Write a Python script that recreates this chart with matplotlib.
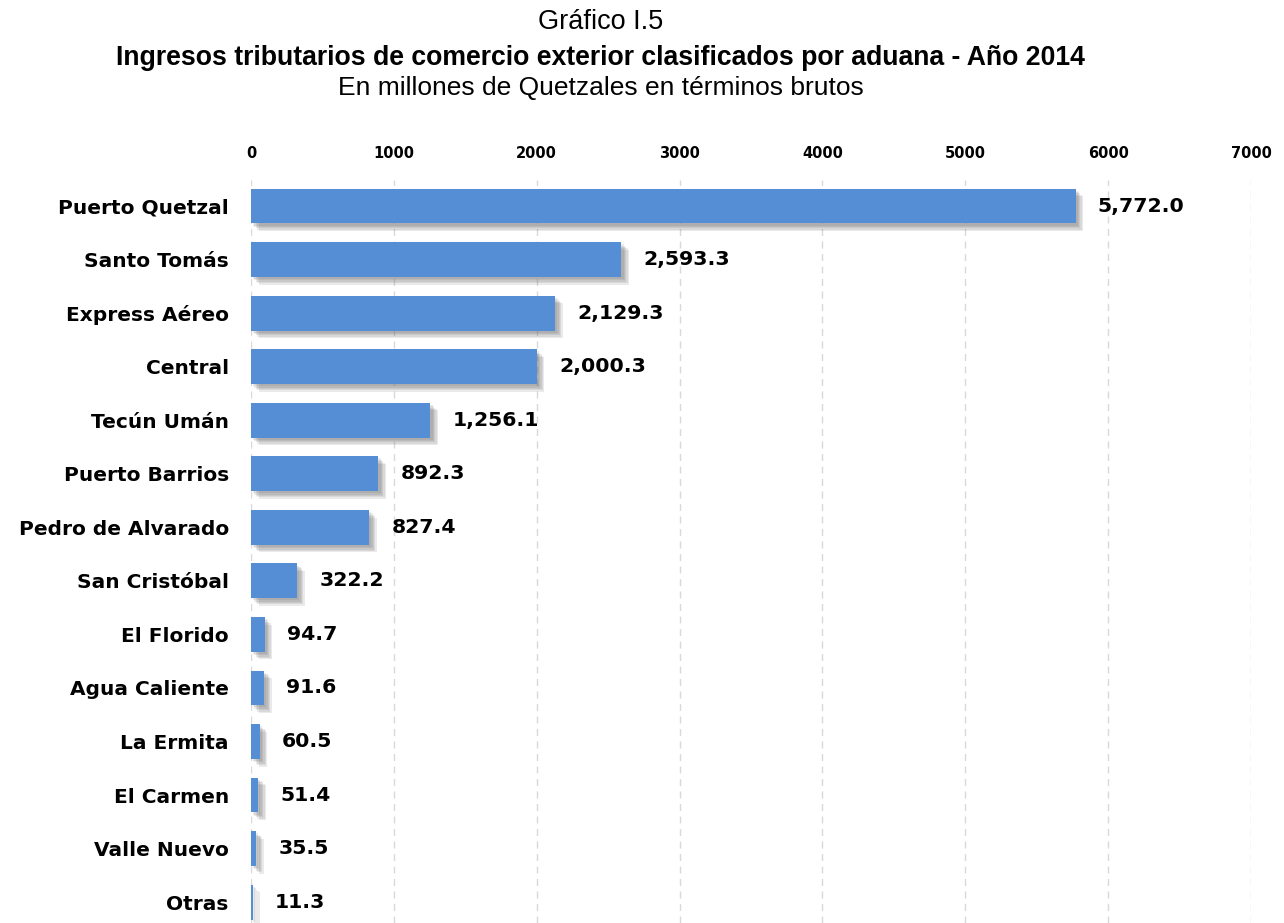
import matplotlib.pyplot as plt
import matplotlib.patheffects as pe

aduanas = ['Puerto Quetzal', 'Santo Tomás', 'Express Aéreo', 'Central', 'Tecún Umán',
           'Puerto Barrios', 'Pedro de Alvarado', 'San Cristóbal', 'El Florido',
           'Agua Caliente', 'La Ermita', 'El Carmen', 'Valle Nuevo', 'Otras']
ingresos = [5772.0, 2593.3, 2129.3, 2000.3, 1256.1, 892.3, 827.4, 322.2,
            94.7, 91.6, 60.5, 51.4, 35.5, 11.3]
ticks = [0, 1000, 2000, 3000, 4000, 5000, 6000, 7000]

W, H = 1284, 923
fig = plt.figure(figsize=(W / 100, H / 100), dpi=100)

# axes: x from 0 (px 251) to 7000 (px 1251), top at px 180, bottom at figure edge
ax = fig.add_axes([251 / W, 0, 1000 / W, 1 - 180 / H])

pos = list(range(len(aduanas)))
bars = ax.barh(pos, ingresos, height=0.65, color='#558ed5', zorder=3)

# soft shadow, a few layers to fake the blur
shadow = [pe.SimplePatchShadow(offset=(d, -d), shadow_rgbFace='#606060', alpha=0.13)
          for d in (1.5, 2.5, 3.5, 4.5, 5.5)]
for b in bars:
    b.set_path_effects(shadow + [pe.Normal()])

n = len(aduanas)
ax.set_xlim(0, 7000)
ax.set_ylim(n - 1 + 0.39, -0.486)
ax.xaxis.tick_top()
ax.set_xticks(ticks)
ax.set_xticklabels([str(t) for t in ticks], fontsize=10.5, fontweight='bold', family='DejaVu Sans')
ax.tick_params(axis='x', length=0, pad=14)
ax.set_yticks(pos)
ax.set_yticklabels(aduanas, fontsize=14.5, fontweight='bold', family='DejaVu Sans')
ax.tick_params(axis='y', length=0, pad=16)
ax.grid(axis='x', linestyle=(0, (5, 4)), color='#d9d9d9', linewidth=1, zorder=0)
ax.grid(axis='y', visible=False)
for s in ax.spines.values():
    s.set_visible(False)

for p, v in zip(pos, ingresos):
    ax.annotate(f'{v:,.1f}', xy=(v, p), xytext=(16, 0), textcoords='offset points',
                ha='left', va='center', fontsize=14.7, fontweight='bold', family='DejaVu Sans')

fig.text(601 / W, 1 - 22 / H, 'Gráfico I.5', ha='center', va='center',
         fontsize=19.5, family='Liberation Sans')
fig.text(600 / W, 1 - 58 / H, 'Ingresos tributarios de comercio exterior clasificados por aduana - Año 2014',
         ha='center', va='center', fontsize=19.2, fontweight='bold', family='Liberation Sans')
fig.text(601 / W, 1 - 88 / H, 'En millones de Quetzales en términos brutos', ha='center', va='center',
         fontsize=19, family='Liberation Sans')

fig.savefig('out.png', dpi=100)
